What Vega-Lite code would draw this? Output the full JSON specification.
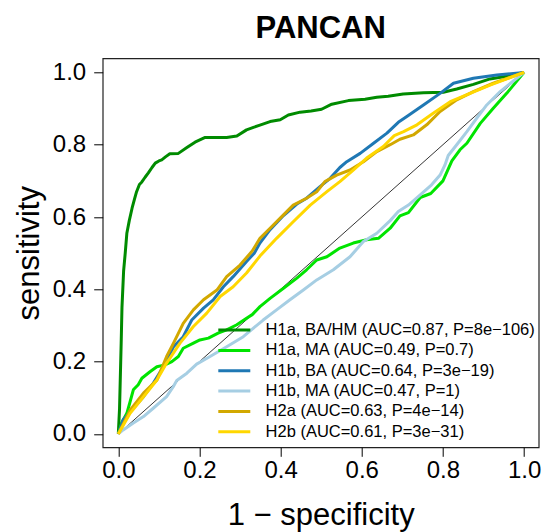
{
  "$schema": "https://vega.github.io/schema/vega-lite/v6.json",
  "width": 436,
  "height": 389,
  "autosize": {"type": "none"},
  "padding": {"left": 102.7, "top": 58.3, "right": 4.3, "bottom": 84.7},
  "background": "white",
  "title": {"text": "PANCAN", "fontSize": 31, "fontWeight": "bold", "font": "Liberation Sans", "anchor": "middle", "baseline": "alphabetic", "offset": 13.5, "dy": 24, "color": "black"},
  "config": {
    "view": {"stroke": "#222222", "strokeWidth": 1.2},
    "axis": {"domain": false, "grid": false, "tickColor": "black", "tickWidth": 1, "tickSize": 9, "labelFont": "Liberation Sans", "labelFontSize": 24, "labelColor": "black", "titleFont": "Liberation Sans", "titleFontSize": 31, "titleFontWeight": "normal", "titleColor": "black", "labelFlush": false, "labelOverlap": false},
    "axisX": {"labelPadding": 2, "titlePadding": 18},
    "axisY": {"labelPadding": 8, "titlePadding": 7},
    "legend": {"orient": "none", "legendX": 115.6, "legendY": 263.5, "symbolType": "M-8,0H8", "symbolSize": 16, "symbolStrokeWidth": 3, "symbolOffset": 7.75, "labelOffset": 23, "labelFontSize": 16.5, "labelFont": "Liberation Sans", "labelColor": "black", "rowPadding": 3.35, "padding": 0, "labelLimit": 0}
  },
  "layer": [
    {
      "data": {"values": [{"x": 0, "y": 0, "x2": 1, "y2": 1}]},
      "mark": {"type": "rule", "color": "black", "strokeWidth": 0.8},
      "encoding": {
        "x": {"field": "x", "type": "quantitative", "scale": {"domain": [-0.0385, 1.036], "nice": false, "zero": false}, "axis": {"values": [0, 0.2, 0.4, 0.6, 0.8, 1], "format": ".1f", "title": "1 − specificity"}},
        "y": {"field": "y", "type": "quantitative", "scale": {"domain": [-0.037, 1.039], "nice": false, "zero": false}, "axis": {"values": [0, 0.2, 0.4, 0.6, 0.8, 1], "format": ".1f", "title": "sensitivity"}},
        "x2": {"field": "x2"},
        "y2": {"field": "y2"}
      }
    },
    {
      "data": {"values": [
        {"c": "H1a, BA/HM (AUC=0.87, P=8e−106)", "x": 0, "y": 0},
        {"c": "H1a, BA/HM (AUC=0.87, P=8e−106)", "x": 0.003, "y": 0.07},
        {"c": "H1a, BA/HM (AUC=0.87, P=8e−106)", "x": 0.005, "y": 0.16},
        {"c": "H1a, BA/HM (AUC=0.87, P=8e−106)", "x": 0.007, "y": 0.25},
        {"c": "H1a, BA/HM (AUC=0.87, P=8e−106)", "x": 0.009, "y": 0.35},
        {"c": "H1a, BA/HM (AUC=0.87, P=8e−106)", "x": 0.011, "y": 0.4},
        {"c": "H1a, BA/HM (AUC=0.87, P=8e−106)", "x": 0.013, "y": 0.45},
        {"c": "H1a, BA/HM (AUC=0.87, P=8e−106)", "x": 0.017, "y": 0.5},
        {"c": "H1a, BA/HM (AUC=0.87, P=8e−106)", "x": 0.021, "y": 0.555},
        {"c": "H1a, BA/HM (AUC=0.87, P=8e−106)", "x": 0.027, "y": 0.59},
        {"c": "H1a, BA/HM (AUC=0.87, P=8e−106)", "x": 0.034, "y": 0.625},
        {"c": "H1a, BA/HM (AUC=0.87, P=8e−106)", "x": 0.04, "y": 0.65},
        {"c": "H1a, BA/HM (AUC=0.87, P=8e−106)", "x": 0.045, "y": 0.67},
        {"c": "H1a, BA/HM (AUC=0.87, P=8e−106)", "x": 0.052, "y": 0.69},
        {"c": "H1a, BA/HM (AUC=0.87, P=8e−106)", "x": 0.058, "y": 0.697},
        {"c": "H1a, BA/HM (AUC=0.87, P=8e−106)", "x": 0.066, "y": 0.71},
        {"c": "H1a, BA/HM (AUC=0.87, P=8e−106)", "x": 0.074, "y": 0.722},
        {"c": "H1a, BA/HM (AUC=0.87, P=8e−106)", "x": 0.083, "y": 0.737},
        {"c": "H1a, BA/HM (AUC=0.87, P=8e−106)", "x": 0.091, "y": 0.749},
        {"c": "H1a, BA/HM (AUC=0.87, P=8e−106)", "x": 0.1, "y": 0.755},
        {"c": "H1a, BA/HM (AUC=0.87, P=8e−106)", "x": 0.107, "y": 0.758},
        {"c": "H1a, BA/HM (AUC=0.87, P=8e−106)", "x": 0.117, "y": 0.767},
        {"c": "H1a, BA/HM (AUC=0.87, P=8e−106)", "x": 0.127, "y": 0.775},
        {"c": "H1a, BA/HM (AUC=0.87, P=8e−106)", "x": 0.148, "y": 0.776},
        {"c": "H1a, BA/HM (AUC=0.87, P=8e−106)", "x": 0.169, "y": 0.792},
        {"c": "H1a, BA/HM (AUC=0.87, P=8e−106)", "x": 0.189, "y": 0.807},
        {"c": "H1a, BA/HM (AUC=0.87, P=8e−106)", "x": 0.214, "y": 0.82},
        {"c": "H1a, BA/HM (AUC=0.87, P=8e−106)", "x": 0.24, "y": 0.82},
        {"c": "H1a, BA/HM (AUC=0.87, P=8e−106)", "x": 0.267, "y": 0.82},
        {"c": "H1a, BA/HM (AUC=0.87, P=8e−106)", "x": 0.292, "y": 0.824},
        {"c": "H1a, BA/HM (AUC=0.87, P=8e−106)", "x": 0.316, "y": 0.841},
        {"c": "H1a, BA/HM (AUC=0.87, P=8e−106)", "x": 0.333, "y": 0.848},
        {"c": "H1a, BA/HM (AUC=0.87, P=8e−106)", "x": 0.349, "y": 0.854},
        {"c": "H1a, BA/HM (AUC=0.87, P=8e−106)", "x": 0.374, "y": 0.864},
        {"c": "H1a, BA/HM (AUC=0.87, P=8e−106)", "x": 0.399, "y": 0.869},
        {"c": "H1a, BA/HM (AUC=0.87, P=8e−106)", "x": 0.419, "y": 0.882},
        {"c": "H1a, BA/HM (AUC=0.87, P=8e−106)", "x": 0.448, "y": 0.89},
        {"c": "H1a, BA/HM (AUC=0.87, P=8e−106)", "x": 0.475, "y": 0.893},
        {"c": "H1a, BA/HM (AUC=0.87, P=8e−106)", "x": 0.501, "y": 0.898},
        {"c": "H1a, BA/HM (AUC=0.87, P=8e−106)", "x": 0.526, "y": 0.912},
        {"c": "H1a, BA/HM (AUC=0.87, P=8e−106)", "x": 0.567, "y": 0.922},
        {"c": "H1a, BA/HM (AUC=0.87, P=8e−106)", "x": 0.608, "y": 0.926},
        {"c": "H1a, BA/HM (AUC=0.87, P=8e−106)", "x": 0.637, "y": 0.931},
        {"c": "H1a, BA/HM (AUC=0.87, P=8e−106)", "x": 0.665, "y": 0.934},
        {"c": "H1a, BA/HM (AUC=0.87, P=8e−106)", "x": 0.702, "y": 0.94},
        {"c": "H1a, BA/HM (AUC=0.87, P=8e−106)", "x": 0.752, "y": 0.944},
        {"c": "H1a, BA/HM (AUC=0.87, P=8e−106)", "x": 0.801, "y": 0.945},
        {"c": "H1a, BA/HM (AUC=0.87, P=8e−106)", "x": 0.834, "y": 0.954},
        {"c": "H1a, BA/HM (AUC=0.87, P=8e−106)", "x": 0.875, "y": 0.967},
        {"c": "H1a, BA/HM (AUC=0.87, P=8e−106)", "x": 0.916, "y": 0.982},
        {"c": "H1a, BA/HM (AUC=0.87, P=8e−106)", "x": 0.96, "y": 0.99},
        {"c": "H1a, BA/HM (AUC=0.87, P=8e−106)", "x": 1, "y": 1},

        {"c": "H1a, MA (AUC=0.49, P=0.7)", "x": 0, "y": 0},
        {"c": "H1a, MA (AUC=0.49, P=0.7)", "x": 0.008, "y": 0.03},
        {"c": "H1a, MA (AUC=0.49, P=0.7)", "x": 0.021, "y": 0.057},
        {"c": "H1a, MA (AUC=0.49, P=0.7)", "x": 0.029, "y": 0.089},
        {"c": "H1a, MA (AUC=0.49, P=0.7)", "x": 0.037, "y": 0.122},
        {"c": "H1a, MA (AUC=0.49, P=0.7)", "x": 0.049, "y": 0.136},
        {"c": "H1a, MA (AUC=0.49, P=0.7)", "x": 0.058, "y": 0.154},
        {"c": "H1a, MA (AUC=0.49, P=0.7)", "x": 0.078, "y": 0.172},
        {"c": "H1a, MA (AUC=0.49, P=0.7)", "x": 0.095, "y": 0.186},
        {"c": "H1a, MA (AUC=0.49, P=0.7)", "x": 0.115, "y": 0.191},
        {"c": "H1a, MA (AUC=0.49, P=0.7)", "x": 0.132, "y": 0.2},
        {"c": "H1a, MA (AUC=0.49, P=0.7)", "x": 0.148, "y": 0.214},
        {"c": "H1a, MA (AUC=0.49, P=0.7)", "x": 0.16, "y": 0.237},
        {"c": "H1a, MA (AUC=0.49, P=0.7)", "x": 0.185, "y": 0.251},
        {"c": "H1a, MA (AUC=0.49, P=0.7)", "x": 0.201, "y": 0.26},
        {"c": "H1a, MA (AUC=0.49, P=0.7)", "x": 0.222, "y": 0.265},
        {"c": "H1a, MA (AUC=0.49, P=0.7)", "x": 0.246, "y": 0.279},
        {"c": "H1a, MA (AUC=0.49, P=0.7)", "x": 0.267, "y": 0.288},
        {"c": "H1a, MA (AUC=0.49, P=0.7)", "x": 0.292, "y": 0.302},
        {"c": "H1a, MA (AUC=0.49, P=0.7)", "x": 0.316, "y": 0.32},
        {"c": "H1a, MA (AUC=0.49, P=0.7)", "x": 0.33, "y": 0.33},
        {"c": "H1a, MA (AUC=0.49, P=0.7)", "x": 0.349, "y": 0.352},
        {"c": "H1a, MA (AUC=0.49, P=0.7)", "x": 0.374, "y": 0.375},
        {"c": "H1a, MA (AUC=0.49, P=0.7)", "x": 0.407, "y": 0.403},
        {"c": "H1a, MA (AUC=0.49, P=0.7)", "x": 0.44, "y": 0.431},
        {"c": "H1a, MA (AUC=0.49, P=0.7)", "x": 0.464, "y": 0.454},
        {"c": "H1a, MA (AUC=0.49, P=0.7)", "x": 0.489, "y": 0.481},
        {"c": "H1a, MA (AUC=0.49, P=0.7)", "x": 0.514, "y": 0.49},
        {"c": "H1a, MA (AUC=0.49, P=0.7)", "x": 0.546, "y": 0.514},
        {"c": "H1a, MA (AUC=0.49, P=0.7)", "x": 0.579, "y": 0.528},
        {"c": "H1a, MA (AUC=0.49, P=0.7)", "x": 0.612, "y": 0.537},
        {"c": "H1a, MA (AUC=0.49, P=0.7)", "x": 0.641, "y": 0.541},
        {"c": "H1a, MA (AUC=0.49, P=0.7)", "x": 0.67, "y": 0.569},
        {"c": "H1a, MA (AUC=0.49, P=0.7)", "x": 0.694, "y": 0.603},
        {"c": "H1a, MA (AUC=0.49, P=0.7)", "x": 0.715, "y": 0.612},
        {"c": "H1a, MA (AUC=0.49, P=0.7)", "x": 0.744, "y": 0.654},
        {"c": "H1a, MA (AUC=0.49, P=0.7)", "x": 0.77, "y": 0.665},
        {"c": "H1a, MA (AUC=0.49, P=0.7)", "x": 0.8, "y": 0.7},
        {"c": "H1a, MA (AUC=0.49, P=0.7)", "x": 0.822, "y": 0.755},
        {"c": "H1a, MA (AUC=0.49, P=0.7)", "x": 0.842, "y": 0.786},
        {"c": "H1a, MA (AUC=0.49, P=0.7)", "x": 0.859, "y": 0.804},
        {"c": "H1a, MA (AUC=0.49, P=0.7)", "x": 0.892, "y": 0.859},
        {"c": "H1a, MA (AUC=0.49, P=0.7)", "x": 0.924, "y": 0.901},
        {"c": "H1a, MA (AUC=0.49, P=0.7)", "x": 0.957, "y": 0.942},
        {"c": "H1a, MA (AUC=0.49, P=0.7)", "x": 1, "y": 1},

        {"c": "H1b, BA (AUC=0.64, P=3e−19)", "x": 0, "y": 0},
        {"c": "H1b, BA (AUC=0.64, P=3e−19)", "x": 0.012, "y": 0.039},
        {"c": "H1b, BA (AUC=0.64, P=3e−19)", "x": 0.037, "y": 0.071},
        {"c": "H1b, BA (AUC=0.64, P=3e−19)", "x": 0.062, "y": 0.103},
        {"c": "H1b, BA (AUC=0.64, P=3e−19)", "x": 0.086, "y": 0.14},
        {"c": "H1b, BA (AUC=0.64, P=3e−19)", "x": 0.111, "y": 0.186},
        {"c": "H1b, BA (AUC=0.64, P=3e−19)", "x": 0.136, "y": 0.241},
        {"c": "H1b, BA (AUC=0.64, P=3e−19)", "x": 0.16, "y": 0.269},
        {"c": "H1b, BA (AUC=0.64, P=3e−19)", "x": 0.181, "y": 0.315},
        {"c": "H1b, BA (AUC=0.64, P=3e−19)", "x": 0.21, "y": 0.348},
        {"c": "H1b, BA (AUC=0.64, P=3e−19)", "x": 0.234, "y": 0.371},
        {"c": "H1b, BA (AUC=0.64, P=3e−19)", "x": 0.259, "y": 0.407},
        {"c": "H1b, BA (AUC=0.64, P=3e−19)", "x": 0.283, "y": 0.435},
        {"c": "H1b, BA (AUC=0.64, P=3e−19)", "x": 0.316, "y": 0.477},
        {"c": "H1b, BA (AUC=0.64, P=3e−19)", "x": 0.335, "y": 0.5},
        {"c": "H1b, BA (AUC=0.64, P=3e−19)", "x": 0.349, "y": 0.528},
        {"c": "H1b, BA (AUC=0.64, P=3e−19)", "x": 0.374, "y": 0.565},
        {"c": "H1b, BA (AUC=0.64, P=3e−19)", "x": 0.407, "y": 0.604},
        {"c": "H1b, BA (AUC=0.64, P=3e−19)", "x": 0.44, "y": 0.636},
        {"c": "H1b, BA (AUC=0.64, P=3e−19)", "x": 0.464, "y": 0.652},
        {"c": "H1b, BA (AUC=0.64, P=3e−19)", "x": 0.497, "y": 0.684},
        {"c": "H1b, BA (AUC=0.64, P=3e−19)", "x": 0.522, "y": 0.707},
        {"c": "H1b, BA (AUC=0.64, P=3e−19)", "x": 0.546, "y": 0.737},
        {"c": "H1b, BA (AUC=0.64, P=3e−19)", "x": 0.563, "y": 0.753},
        {"c": "H1b, BA (AUC=0.64, P=3e−19)", "x": 0.596, "y": 0.776},
        {"c": "H1b, BA (AUC=0.64, P=3e−19)", "x": 0.629, "y": 0.804},
        {"c": "H1b, BA (AUC=0.64, P=3e−19)", "x": 0.662, "y": 0.832},
        {"c": "H1b, BA (AUC=0.64, P=3e−19)", "x": 0.69, "y": 0.862},
        {"c": "H1b, BA (AUC=0.64, P=3e−19)", "x": 0.711, "y": 0.878},
        {"c": "H1b, BA (AUC=0.64, P=3e−19)", "x": 0.752, "y": 0.91},
        {"c": "H1b, BA (AUC=0.64, P=3e−19)", "x": 0.793, "y": 0.942},
        {"c": "H1b, BA (AUC=0.64, P=3e−19)", "x": 0.826, "y": 0.97},
        {"c": "H1b, BA (AUC=0.64, P=3e−19)", "x": 0.875, "y": 0.984},
        {"c": "H1b, BA (AUC=0.64, P=3e−19)", "x": 0.933, "y": 0.993},
        {"c": "H1b, BA (AUC=0.64, P=3e−19)", "x": 1, "y": 1},

        {"c": "H1b, MA (AUC=0.47, P=1)", "x": 0, "y": 0},
        {"c": "H1b, MA (AUC=0.47, P=1)", "x": 0.012, "y": 0.011},
        {"c": "H1b, MA (AUC=0.47, P=1)", "x": 0.037, "y": 0.03},
        {"c": "H1b, MA (AUC=0.47, P=1)", "x": 0.062, "y": 0.048},
        {"c": "H1b, MA (AUC=0.47, P=1)", "x": 0.086, "y": 0.071},
        {"c": "H1b, MA (AUC=0.47, P=1)", "x": 0.119, "y": 0.103},
        {"c": "H1b, MA (AUC=0.47, P=1)", "x": 0.135, "y": 0.13},
        {"c": "H1b, MA (AUC=0.47, P=1)", "x": 0.144, "y": 0.148},
        {"c": "H1b, MA (AUC=0.47, P=1)", "x": 0.169, "y": 0.168},
        {"c": "H1b, MA (AUC=0.47, P=1)", "x": 0.193, "y": 0.193},
        {"c": "H1b, MA (AUC=0.47, P=1)", "x": 0.226, "y": 0.214},
        {"c": "H1b, MA (AUC=0.47, P=1)", "x": 0.267, "y": 0.241},
        {"c": "H1b, MA (AUC=0.47, P=1)", "x": 0.308, "y": 0.269},
        {"c": "H1b, MA (AUC=0.47, P=1)", "x": 0.33, "y": 0.29},
        {"c": "H1b, MA (AUC=0.47, P=1)", "x": 0.357, "y": 0.315},
        {"c": "H1b, MA (AUC=0.47, P=1)", "x": 0.39, "y": 0.343},
        {"c": "H1b, MA (AUC=0.47, P=1)", "x": 0.423, "y": 0.371},
        {"c": "H1b, MA (AUC=0.47, P=1)", "x": 0.456, "y": 0.398},
        {"c": "H1b, MA (AUC=0.47, P=1)", "x": 0.489, "y": 0.426},
        {"c": "H1b, MA (AUC=0.47, P=1)", "x": 0.53, "y": 0.454},
        {"c": "H1b, MA (AUC=0.47, P=1)", "x": 0.571, "y": 0.49},
        {"c": "H1b, MA (AUC=0.47, P=1)", "x": 0.604, "y": 0.532},
        {"c": "H1b, MA (AUC=0.47, P=1)", "x": 0.637, "y": 0.555},
        {"c": "H1b, MA (AUC=0.47, P=1)", "x": 0.67, "y": 0.59},
        {"c": "H1b, MA (AUC=0.47, P=1)", "x": 0.69, "y": 0.615},
        {"c": "H1b, MA (AUC=0.47, P=1)", "x": 0.715, "y": 0.633},
        {"c": "H1b, MA (AUC=0.47, P=1)", "x": 0.744, "y": 0.661},
        {"c": "H1b, MA (AUC=0.47, P=1)", "x": 0.772, "y": 0.689},
        {"c": "H1b, MA (AUC=0.47, P=1)", "x": 0.793, "y": 0.716},
        {"c": "H1b, MA (AUC=0.47, P=1)", "x": 0.805, "y": 0.744},
        {"c": "H1b, MA (AUC=0.47, P=1)", "x": 0.813, "y": 0.77},
        {"c": "H1b, MA (AUC=0.47, P=1)", "x": 0.834, "y": 0.8},
        {"c": "H1b, MA (AUC=0.47, P=1)", "x": 0.859, "y": 0.836},
        {"c": "H1b, MA (AUC=0.47, P=1)", "x": 0.883, "y": 0.873},
        {"c": "H1b, MA (AUC=0.47, P=1)", "x": 0.908, "y": 0.91},
        {"c": "H1b, MA (AUC=0.47, P=1)", "x": 0.941, "y": 0.947},
        {"c": "H1b, MA (AUC=0.47, P=1)", "x": 1, "y": 1},

        {"c": "H2a (AUC=0.63, P=4e−14)", "x": 0, "y": 0},
        {"c": "H2a (AUC=0.63, P=4e−14)", "x": 0.029, "y": 0.066},
        {"c": "H2a (AUC=0.63, P=4e−14)", "x": 0.062, "y": 0.113},
        {"c": "H2a (AUC=0.63, P=4e−14)", "x": 0.095, "y": 0.149},
        {"c": "H2a (AUC=0.63, P=4e−14)", "x": 0.119, "y": 0.214},
        {"c": "H2a (AUC=0.63, P=4e−14)", "x": 0.136, "y": 0.251},
        {"c": "H2a (AUC=0.63, P=4e−14)", "x": 0.16, "y": 0.306},
        {"c": "H2a (AUC=0.63, P=4e−14)", "x": 0.185, "y": 0.343},
        {"c": "H2a (AUC=0.63, P=4e−14)", "x": 0.21, "y": 0.371},
        {"c": "H2a (AUC=0.63, P=4e−14)", "x": 0.243, "y": 0.398},
        {"c": "H2a (AUC=0.63, P=4e−14)", "x": 0.267, "y": 0.435},
        {"c": "H2a (AUC=0.63, P=4e−14)", "x": 0.3, "y": 0.467},
        {"c": "H2a (AUC=0.63, P=4e−14)", "x": 0.33, "y": 0.506},
        {"c": "H2a (AUC=0.63, P=4e−14)", "x": 0.349, "y": 0.541},
        {"c": "H2a (AUC=0.63, P=4e−14)", "x": 0.374, "y": 0.569},
        {"c": "H2a (AUC=0.63, P=4e−14)", "x": 0.407, "y": 0.606},
        {"c": "H2a (AUC=0.63, P=4e−14)", "x": 0.431, "y": 0.633},
        {"c": "H2a (AUC=0.63, P=4e−14)", "x": 0.464, "y": 0.652},
        {"c": "H2a (AUC=0.63, P=4e−14)", "x": 0.489, "y": 0.67},
        {"c": "H2a (AUC=0.63, P=4e−14)", "x": 0.509, "y": 0.698},
        {"c": "H2a (AUC=0.63, P=4e−14)", "x": 0.538, "y": 0.716},
        {"c": "H2a (AUC=0.63, P=4e−14)", "x": 0.571, "y": 0.73},
        {"c": "H2a (AUC=0.63, P=4e−14)", "x": 0.604, "y": 0.753},
        {"c": "H2a (AUC=0.63, P=4e−14)", "x": 0.637, "y": 0.781},
        {"c": "H2a (AUC=0.63, P=4e−14)", "x": 0.67, "y": 0.8},
        {"c": "H2a (AUC=0.63, P=4e−14)", "x": 0.694, "y": 0.815},
        {"c": "H2a (AUC=0.63, P=4e−14)", "x": 0.727, "y": 0.827},
        {"c": "H2a (AUC=0.63, P=4e−14)", "x": 0.76, "y": 0.855},
        {"c": "H2a (AUC=0.63, P=4e−14)", "x": 0.793, "y": 0.892},
        {"c": "H2a (AUC=0.63, P=4e−14)", "x": 0.834, "y": 0.924},
        {"c": "H2a (AUC=0.63, P=4e−14)", "x": 0.875, "y": 0.947},
        {"c": "H2a (AUC=0.63, P=4e−14)", "x": 0.924, "y": 0.97},
        {"c": "H2a (AUC=0.63, P=4e−14)", "x": 1, "y": 1},

        {"c": "H2b (AUC=0.61, P=3e−31)", "x": 0, "y": 0},
        {"c": "H2b (AUC=0.61, P=3e−31)", "x": 0.029, "y": 0.057},
        {"c": "H2b (AUC=0.61, P=3e−31)", "x": 0.062, "y": 0.103},
        {"c": "H2b (AUC=0.61, P=3e−31)", "x": 0.095, "y": 0.149},
        {"c": "H2b (AUC=0.61, P=3e−31)", "x": 0.119, "y": 0.196},
        {"c": "H2b (AUC=0.61, P=3e−31)", "x": 0.152, "y": 0.251},
        {"c": "H2b (AUC=0.61, P=3e−31)", "x": 0.185, "y": 0.297},
        {"c": "H2b (AUC=0.61, P=3e−31)", "x": 0.218, "y": 0.334},
        {"c": "H2b (AUC=0.61, P=3e−31)", "x": 0.251, "y": 0.38},
        {"c": "H2b (AUC=0.61, P=3e−31)", "x": 0.283, "y": 0.407},
        {"c": "H2b (AUC=0.61, P=3e−31)", "x": 0.316, "y": 0.445},
        {"c": "H2b (AUC=0.61, P=3e−31)", "x": 0.349, "y": 0.492},
        {"c": "H2b (AUC=0.61, P=3e−31)", "x": 0.39, "y": 0.541},
        {"c": "H2b (AUC=0.61, P=3e−31)", "x": 0.431, "y": 0.587},
        {"c": "H2b (AUC=0.61, P=3e−31)", "x": 0.473, "y": 0.633},
        {"c": "H2b (AUC=0.61, P=3e−31)", "x": 0.514, "y": 0.67},
        {"c": "H2b (AUC=0.61, P=3e−31)", "x": 0.546, "y": 0.698},
        {"c": "H2b (AUC=0.61, P=3e−31)", "x": 0.579, "y": 0.73},
        {"c": "H2b (AUC=0.61, P=3e−31)", "x": 0.612, "y": 0.763},
        {"c": "H2b (AUC=0.61, P=3e−31)", "x": 0.653, "y": 0.795},
        {"c": "H2b (AUC=0.61, P=3e−31)", "x": 0.68, "y": 0.825},
        {"c": "H2b (AUC=0.61, P=3e−31)", "x": 0.703, "y": 0.836},
        {"c": "H2b (AUC=0.61, P=3e−31)", "x": 0.736, "y": 0.855},
        {"c": "H2b (AUC=0.61, P=3e−31)", "x": 0.776, "y": 0.887},
        {"c": "H2b (AUC=0.61, P=3e−31)", "x": 0.818, "y": 0.919},
        {"c": "H2b (AUC=0.61, P=3e−31)", "x": 0.867, "y": 0.942},
        {"c": "H2b (AUC=0.61, P=3e−31)", "x": 0.916, "y": 0.965},
        {"c": "H2b (AUC=0.61, P=3e−31)", "x": 1, "y": 1}
      ]},
      "mark": {"type": "line", "strokeWidth": 3, "strokeJoin": "round"},
      "encoding": {
        "x": {"field": "x", "type": "quantitative", "scale": {"domain": [-0.0385, 1.036], "nice": false, "zero": false}, "axis": {"values": [0, 0.2, 0.4, 0.6, 0.8, 1], "format": ".1f", "title": "1 − specificity"}},
        "y": {"field": "y", "type": "quantitative", "scale": {"domain": [-0.037, 1.039], "nice": false, "zero": false}, "axis": {"values": [0, 0.2, 0.4, 0.6, 0.8, 1], "format": ".1f", "title": "sensitivity"}},
        "color": {
          "field": "c",
          "type": "nominal",
          "scale": {
            "domain": ["H1a, BA/HM (AUC=0.87, P=8e−106)", "H1a, MA (AUC=0.49, P=0.7)", "H1b, BA (AUC=0.64, P=3e−19)", "H1b, MA (AUC=0.47, P=1)", "H2a (AUC=0.63, P=4e−14)", "H2b (AUC=0.61, P=3e−31)"],
            "range": ["#008B00", "#00E400", "#1F78B4", "#A6CEE3", "#D2A800", "#FFD700"]
          },
          "legend": {"title": null}
        }
      }
    }
  ]
}
